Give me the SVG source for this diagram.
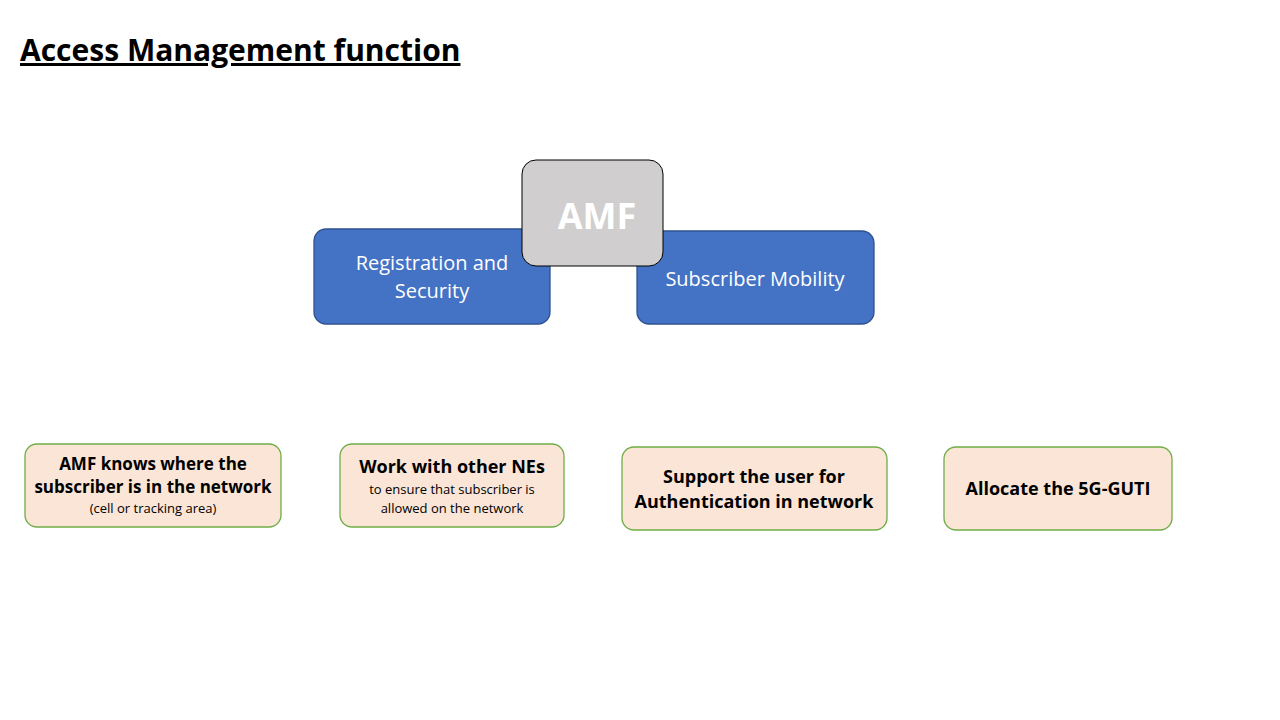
<svg xmlns="http://www.w3.org/2000/svg" width="1280" height="720" viewBox="0 0 1280 720">
<style>
.t{font-family:"Open Sans","Liberation Sans",sans-serif}
.blue{fill:#4472c4;stroke:#2f528f;stroke-width:1.3}
.peach{fill:#fbe5d6;stroke:#70ad47;stroke-width:1.3}
.w{fill:#fff;font-size:20px}
.b{fill:#000;font-size:17px;font-weight:bold}
.s{fill:#000;font-size:13px}
</style>
<rect width="1280" height="720" fill="#fff"/>
<text class="t" x="20" y="61" font-size="30" font-weight="bold" text-decoration="underline">Access Management function</text>
<g id="reg"><rect class="blue" x="314" y="229" width="236" height="95" rx="12"/>
<text class="t w" x="432" y="270" text-anchor="middle">Registration and</text>
<text class="t w" x="432" y="298" text-anchor="middle">Security</text></g>
<g id="mob"><rect class="blue" x="637" y="231" width="237" height="93" rx="12"/>
<text class="t w" x="755" y="286" text-anchor="middle">Subscriber Mobility</text></g>
<g id="amf"><rect x="522" y="160" width="141" height="106" rx="14" fill="#d0cece" stroke="#000" stroke-width="1"/>
<text class="t" x="597" y="229" text-anchor="middle" font-size="36" font-weight="bold" fill="#fff">AMF</text></g>
<g id="n1"><rect class="peach" x="25" y="444" width="256" height="83" rx="12"/>
<text class="t b" x="153" y="470" text-anchor="middle">AMF knows where the</text>
<text class="t b" x="153" y="493" text-anchor="middle">subscriber is in the network</text>
<text class="t s" x="153" y="513" text-anchor="middle">(cell or tracking area)</text></g>
<g id="n2"><rect class="peach" x="340" y="444" width="224" height="83" rx="12"/>
<text class="t" x="452" y="473" text-anchor="middle" font-size="18" font-weight="bold">Work with other NEs</text>
<text class="t s" x="452" y="494" text-anchor="middle">to ensure that subscriber is</text>
<text class="t s" x="452" y="513" text-anchor="middle">allowed on the network</text></g>
<g id="n3"><rect class="peach" x="622" y="447" width="265" height="83" rx="12"/>
<text class="t" x="754" y="483" text-anchor="middle" font-size="18" font-weight="bold">Support the user for</text>
<text class="t" x="754" y="508" text-anchor="middle" font-size="18" font-weight="bold">Authentication in network</text></g>
<g id="n4"><rect class="peach" x="944" y="447" width="228" height="83" rx="12"/>
<text class="t" x="1058" y="495" text-anchor="middle" font-size="18" font-weight="bold">Allocate the 5G-GUTI</text></g>
<g id="connectors"/>
</svg>
